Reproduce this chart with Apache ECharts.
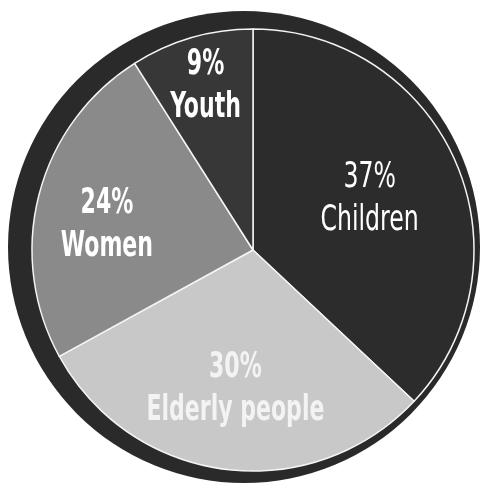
<!DOCTYPE html>
<html>
<head>
<meta charset="utf-8">
<script src="https://cdn.jsdelivr.net/npm/echarts@6/dist/echarts.min.js"></script>
<style>html,body{margin:0;padding:0;background:#fff;}#c{width:483px;height:485px;}</style>
</head>
<body>
<div id="c"></div>
<script>
const categories = ['Children', 'Elderly people', 'Women', 'Youth'];
const values = [37, 30, 24, 9];
const sliceColors = ['#2c2c2c', '#c8c8c8', '#8a8a8a', '#373737'];
const labelWeights = ['normal', 'bold', 'bold', 'bold'];
const labelColors = ['#ffffff', '#f3f3f3', '#ffffff', '#ffffff'];
const labelScaleX = [0.75, 0.70, 0.70, 0.70];
const labelRadiusFrac = [0.575, 0.635, 0.67, 0.77];
const labelAngleShift = [0, 0, 5, 0];

const CX = 253, CY = 250, R = 221;
const total = values.reduce((a, b) => a + b, 0);
const midAngles = [];
let acc = 0;
values.forEach(v => { midAngles.push(90 - (acc + v / 2) / total * 360); acc += v; });

const FONT = "'Liberation Sans Narrow', 'DejaVu Sans Condensed', 'DejaVu Sans', sans-serif";

const labelGraphics = categories.map((c, i) => {
  const a = (midAngles[i] + labelAngleShift[i]) * Math.PI / 180;
  const r = R * labelRadiusFrac[i];
  return {
    type: 'text',
    x: CX + r * Math.cos(a),
    y: CY - r * Math.sin(a),
    scaleX: labelScaleX[i],
    silent: true,
    z: 100,
    style: {
      text: values[i] + '%\n' + c,
      fill: labelColors[i],
      font: labelWeights[i] + ' 35px ' + FONT,
      lineHeight: 43,
      align: 'center',
      verticalAlign: 'middle'
    }
  };
});

const chart = echarts.init(document.getElementById('c'), null, {renderer: 'canvas'});
chart.setOption({
  backgroundColor: '#ffffff',
  animation: false,
  graphic: labelGraphics,
  series: [
    {
      type: 'pie',
      center: [244, 247],
      radius: [0, 236],
      silent: true,
      label: {show: false},
      labelLine: {show: false},
      itemStyle: {color: '#2a2a2a', borderWidth: 0},
      data: [{value: 1, name: 'ring'}]
    },
    {
      type: 'pie',
      center: [CX, CY],
      radius: [0, R],
      startAngle: 90,
      clockwise: true,
      itemStyle: {borderColor: '#f4f4f4', borderWidth: 1.5},
      labelLine: {show: false},
      label: {show: false},
      data: categories.map((c, i) => ({
        name: c,
        value: values[i],
        itemStyle: {color: sliceColors[i]}
      }))
    }
  ]
});
</script>
</body>
</html>
